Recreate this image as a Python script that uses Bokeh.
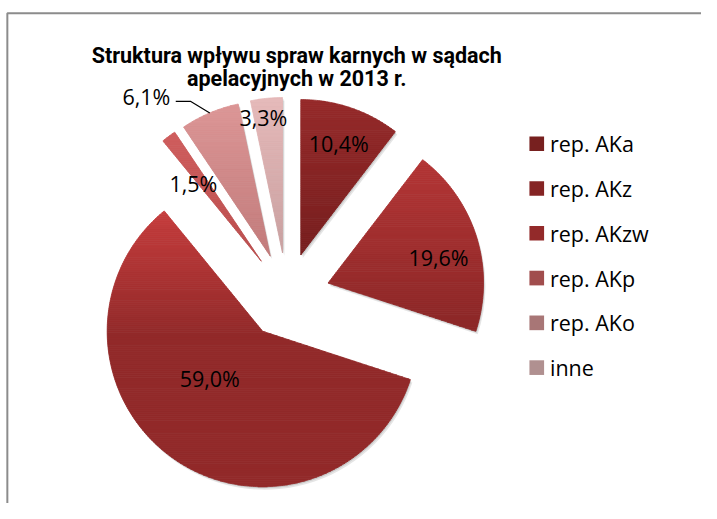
import numpy as np
from bokeh.plotting import figure
from bokeh.models import Range1d
from bokeh.embed import file_html
from bokeh.resources import INLINE
from bokeh.core.properties import value

# ---------------- data ----------------
categories = ["rep. AKa", "rep. AKz", "rep. AKzw", "rep. AKp", "rep. AKo", "inne"]
shares = [10.4, 19.6, 59.0, 1.5, 6.1, 3.3]
share_labels = ["10,4%", "19,6%", "59,0%", "1,5%", "6,1%", "3,3%"]
title_lines = ["Struktura wpływu spraw karnych w sądach", "apelacyjnych w 2013 r."]

# ---------------- styles ----------------
top_colors = ["#962a2a", "#b43636", "#c63d3d", "#cf5e5e", "#dc9696", "#e6baba"]
bottom_colors = ["#771f1f", "#8b2727", "#922a2a", "#bb4d4d", "#c27b7b", "#c9a0a0"]
grad_end = [1.0, 1.0, 0.45, 1.0, 1.0, 1.0]
legend_colors = ["#77201f", "#852424", "#932a2a", "#a14d4d", "#a87676", "#b09090"]
label_f = [0.76, 0.73, 0.455, 0.664, 1.30, 0.877]
label_delta = [0.0, 4.0, 14.0, -4.6, -14.9, -2.1]

IMG_W, IMG_H = 717, 519
W, H = 701, 503
S = W / IMG_W                      # uniform scale: reference pixels -> screen pixels
CX, CY_IMG, R, EXPLODE = 293.0, 302.0, 159.0, 44.0
CY = IMG_H - CY_IMG


def px(v):
    return "%.1fpx" % (v * S)


def hex2rgb(h):
    h = h.lstrip("#")
    return np.array([int(h[i:i + 2], 16) for i in (0, 2, 4)], dtype=float)


def lerp_color(c0, c1, t):
    a, b = hex2rgb(c0), hex2rgb(c1)
    c = a + (b - a) * t
    return "#%02x%02x%02x" % tuple(int(round(v)) for v in c)


def clip_half(pts, yc, keep_above):
    out = []
    n = len(pts)
    for i in range(n):
        cur = pts[i]
        prev = pts[i - 1]
        cin = cur[1] >= yc if keep_above else cur[1] <= yc
        pin = prev[1] >= yc if keep_above else prev[1] <= yc
        if cin:
            if not pin:
                t = (yc - prev[1]) / (cur[1] - prev[1])
                out.append((prev[0] + t * (cur[0] - prev[0]), yc))
            out.append(cur)
        elif pin:
            t = (yc - prev[1]) / (cur[1] - prev[1])
            out.append((prev[0] + t * (cur[0] - prev[0]), yc))
    return out


p = figure(width=W, height=H, x_range=Range1d(0, IMG_W), y_range=Range1d(IMG_H - H / S, IMG_H),
           output_backend="svg", toolbar_location=None, min_border=0,
           x_axis_location=None, y_axis_location=None)
p.grid.visible = False
p.outline_line_color = None
p.background_fill_color = "white"
p.border_fill_color = "white"

# chart area frame (left/top edges visible)
p.line([7, 7, 730], [-20, IMG_H - 13, IMG_H - 13], line_color="#8c8c8c", line_width=2)

total = float(sum(shares))
fr = np.array(shares) / total
a1s = np.cumsum(fr) * 2 * np.pi
a0s = a1s - fr * 2 * np.pi
mids = (a0s + a1s) / 2
vx = CX + EXPLODE * np.sin(mids)
vy = CY + EXPLODE * np.cos(mids)

# shadows
for off, alpha in [((2.0, -3.0), 0.10), ((1.0, -1.5), 0.12)]:
    p.wedge(x=list(vx + off[0]), y=list(vy + off[1]), radius=R,
            start_angle=list(np.pi / 2 - a0s), end_angle=list(np.pi / 2 - a1s),
            direction="clock", fill_color="black", fill_alpha=alpha, line_color=None)

# gradient-filled slices
xs_all, ys_all, cols = [], [], []
for i in range(len(shares)):
    n = max(8, int(abs(a1s[i] - a0s[i]) * 80))
    ang = np.linspace(a0s[i], a1s[i], n)
    poly = [(vx[i], vy[i])] + [(vx[i] + R * np.sin(a), vy[i] + R * np.cos(a)) for a in ang]
    ytop = max(q[1] for q in poly)
    ybot = min(q[1] for q in poly)
    step = 2.0
    y = ytop
    while y > ybot:
        y0 = max(y - step, ybot)
        band = clip_half(clip_half(poly, y0, True), y, False)
        if len(band) >= 3:
            t = (ytop - (y + y0) / 2) / (ytop - ybot)
            t = min(1.0, t / grad_end[i])
            xs_all.append([q[0] for q in band])
            ys_all.append([q[1] for q in band])
            cols.append(lerp_color(top_colors[i], bottom_colors[i], t))
        y = y0
p.patches(xs=xs_all, ys=ys_all, fill_color=cols, line_color=cols, line_width=0.8)

# data labels
la = mids + np.radians(label_delta)
lx = vx + np.array(label_f) * R * np.sin(la)
ly = vy + np.array(label_f) * R * np.cos(la)
p.text(x=list(lx), y=list(ly), text=share_labels, text_font=value("Open Sans"),
       text_font_size=px(22), text_color="black", text_align="center", text_baseline="middle")

# leader line for the outside label of "rep. AKo"
k = 4
ax_ = vx[k] + R * np.sin(mids[k])
ay_ = vy[k] + R * np.cos(mids[k])
p.line([ax_, lx[k] + 45, lx[k] + 30], [ay_, ly[k] - 5, ly[k] - 5], line_color="black", line_width=1.2)

# legend
leg_y = IMG_H - (146.5 + 45.8 * np.arange(len(categories)))
p.rect(x=[548.5] * len(categories), y=list(leg_y), width=15, height=15,
       fill_color=legend_colors, line_color=None)
p.text(x=[562] * len(categories), y=list(leg_y), text=categories, text_font=value("Open Sans"),
       text_font_size=px(22), text_color="black", text_align="left", text_baseline="middle")

# title
p.text(x=[303, 303], y=[IMG_H - 56, IMG_H - 80], text=title_lines,
       text_font=value("Roboto"), text_font_style="bold", text_font_size=px(22),
       text_color="black", text_align="center", text_baseline="alphabetic")

open("out.html", "w").write(file_html(p, INLINE))
